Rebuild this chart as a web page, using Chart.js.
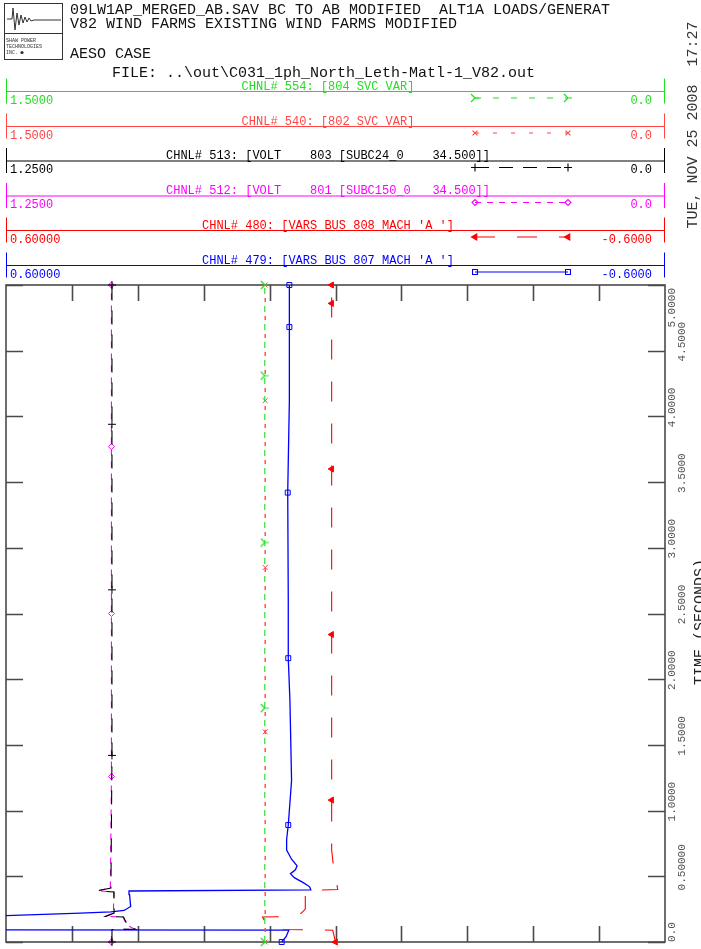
<!DOCTYPE html>
<html>
<head>
<meta charset="utf-8">
<script src="https://cdn.jsdelivr.net/npm/chart.js@4.4.0/dist/chart.umd.min.js"></script>
<style>
  body { margin: 0; background: #fff; }
  canvas { display: block; }
</style>
</head>
<body>
<canvas id="plot" width="701" height="949"></canvas>
<script>
// time axis (vertical, seconds)
const timeTicks = [0, 0.5, 1, 1.5, 2, 2.5, 3, 3.5, 4, 4.5, 5];
const timeLabels = ['0.0', '0.50000', '1.0000', '1.5000', '2.0000', '2.5000', '3.0000', '3.5000', '4.0000', '4.5000', '5.0000'];

// channel headers, top to bottom
const channelIds = ['554', '540', '513', '512', '480', '479'];
const channelTitles = [
  'CHNL# 554: [804 SVC VAR]',
  'CHNL# 540: [802 SVC VAR]',
  'CHNL# 513: [VOLT    803 [SUBC24_0    34.500]]',
  'CHNL# 512: [VOLT    801 [SUBC150_0   34.500]]',
  "CHNL# 480: [VARS BUS 808 MACH 'A ']",
  "CHNL# 479: [VARS BUS 807 MACH 'A ']"
];
const scaleHigh = [1.5, 1.5, 1.25, 1.25, 0.6, 0.6];
const scaleLow = [0, 0, 0, 0, -0.6, -0.6];
const highLabels = ['1.5000', '1.5000', '1.2500', '1.2500', '0.60000', '0.60000'];
const lowLabels = ['0.0', '0.0', '0.0', '0.0', '-0.6000', '-0.6000'];

// channel traces: time (s) and value, plus times where a symbol is drawn
const t554 = [0, 1.78, 3.04, 4.31, 5];
const v554 = [0.911, 0.911, 0.911, 0.911, 0.911];
const m554 = [0, 1.78, 3.04, 4.31, 5];

const t540 = [0, 1.6, 2.85, 4.12, 5];
const v540 = [0.91, 0.91, 0.91, 0.91, 0.91];
const m540 = [0, 1.6, 2.85, 4.12, 5];

const t513 = [0, 0.095, 0.097, 0.13, 0.19, 0.195, 0.22, 0.38, 0.39, 0.41, 1.42, 2.68, 3.94, 5];
const v513 = [1.049, 1.049, 1.004, 1.020, 1.027, 1.061, 1.045, 1.045, 1.076, 1.051, 1.049, 1.049, 1.049, 1.049];
const m513 = [0, 1.42, 2.68, 3.94, 5];

const t512 = [0, 0.095, 0.097, 0.13, 0.19, 0.195, 0.22, 0.38, 0.39, 0.41, 1.26, 2.5, 3.77, 5];
const v512 = [1.050, 1.050, 1.006, 1.021, 1.028, 1.062, 1.046, 1.046, 1.077, 1.052, 1.050, 1.050, 1.050, 1.050];
const m512 = [0, 1.26, 2.5, 3.77, 5];

const t480 = [0, 0.09, 0.095, 0.13, 0.19, 0.193, 0.22, 0.25, 0.37, 0.39, 0.40, 0.45, 0.55, 0.7, 1.08, 2.34, 3.6, 4.86, 5];
const v480 = [0.0, 0.005, 0.095, 0.125, 0.133, 0.080, 0.062, 0.055, 0.055, 0.055, -0.004, -0.002, 0.003, 0.007, 0.007, 0.007, 0.007, 0.007, 0.007];
const m480 = [0, 1.08, 2.34, 3.6, 4.86, 5];

const t479 = [0, 0.04, 0.09, 0.095, 0.197, 0.2, 0.22, 0.23, 0.24, 0.27, 0.36, 0.388, 0.396, 0.42, 0.45, 0.49, 0.52, 0.55, 0.58, 0.63, 0.7, 0.78, 0.89, 1.23, 1.84, 2.16, 2.6, 3.42, 4.12, 4.68, 5];
const v479 = [0.098, 0.090, 0.085, 0.95, 0.95, 0.6, 0.464, 0.409, 0.385, 0.373, 0.375, 0.376, 0.045, 0.047, 0.058, 0.075, 0.082, 0.073, 0.070, 0.080, 0.089, 0.089, 0.086, 0.080, 0.083, 0.086, 0.086, 0.087, 0.084, 0.084, 0.084];
const m479 = [0, 0.89, 2.16, 3.42, 4.68, 5];

const series = [[t554, v554, m554], [t540, v540, m540], [t513, v513, m513],
                [t512, v512, m512], [t480, v480, m480], [t479, v479, m479]];

// styles
const MONO = '"Liberation Mono", "DejaVu Sans Mono", monospace';
const colors = ['#22dd22', '#ff4545', '#000000', '#ff00ff', '#ff0000', '#0000ff'];
const dashes = [[6, 12], [4, 14], [14, 10], [6, 6], [20, 22], []];
const dashOffsets = [0, -10, 0, 0, 0, 0];

let greenMark = document.createElement('canvas');
greenMark.width = 10;
greenMark.height = 10;
let g = greenMark.getContext('2d');
g.strokeStyle = colors[0];
g.lineWidth = 1.2;
g.beginPath();
g.moveTo(1, 1); g.lineTo(5, 5); g.lineTo(1, 9);
g.moveTo(5, 5); g.lineTo(9, 5);
g.stroke();

const markers = [greenMark, 'crossRot', 'cross', 'rectRot', 'triangle', 'rect'];
const markRot = [0, 0, 0, 0, -90, 0];
const markSize = [5, 3.5, 4, 3, 3.5, 3.5];
const bandY = [91, 126, 160.5, 195.5, 230, 265];

let scales = {
  y: { type: 'linear', min: 0, max: 5, display: false }
};
channelIds.forEach(function (id, i) {
  scales['x' + id] = { type: 'linear', axis: 'x', min: scaleLow[i], max: scaleHigh[i], reverse: true, display: false };
});

let datasets = series.map(function (s, i) {
  return {
    label: channelTitles[i],
    data: s[0].map(function (t, k) { return { x: s[1][k], y: t }; }),
    xAxisID: 'x' + channelIds[i],
    yAxisID: 'y',
    showLine: true,
    borderColor: colors[i],
    borderWidth: i === 5 ? 1.3 : (i === 1 ? 1.4 : 1.1),
    borderDash: dashes[i],
    borderDashOffset: dashOffsets[i],
    pointStyle: markers[i],
    pointRotation: markRot[i],
    pointRadius: function (ctx) {
      return (ctx.raw && s[2].indexOf(ctx.raw.y) >= 0) ? markSize[i] : 0;
    },
    pointBorderColor: colors[i],
    pointBackgroundColor: i === 4 ? colors[i] : 'rgba(0,0,0,0)',
    pointBorderWidth: 1,
    clip: { left: 0, right: 0, top: 8, bottom: 8 }
  };
});

function rotText(ctx, text, xBase, yc, font, color) {
  ctx.save();
  ctx.font = font;
  ctx.fillStyle = color;
  ctx.translate(xBase, yc);
  ctx.rotate(-Math.PI / 2);
  ctx.textAlign = 'center';
  ctx.textBaseline = 'alphabetic';
  ctx.fillText(text, 0, 0);
  ctx.restore();
}

const psseFrame = {
  id: 'psseFrame',
  beforeDatasetsDraw(chart) {
    const ctx = chart.ctx;
    const a = chart.chartArea;
    const xs = chart.scales.x479;
    const ys = chart.scales.y;
    ctx.save();
    ctx.strokeStyle = '#4a4a4a';
    ctx.lineWidth = 1.6;
    ctx.strokeRect(a.left, a.top, a.right - a.left, a.bottom - a.top);
    ctx.beginPath();
    for (let i = 1; i < 10; i++) {
      let px = Math.round(xs.getPixelForValue(-0.6 + 0.12 * i)) + 0.5;
      ctx.moveTo(px, a.top); ctx.lineTo(px, a.top + 16);
      ctx.moveTo(px, a.bottom); ctx.lineTo(px, a.bottom - 16);
    }
    timeTicks.forEach(function (t) {
      let py = Math.round(ys.getPixelForValue(t)) + 0.5;
      ctx.moveTo(a.left, py); ctx.lineTo(a.left + 17, py);
      ctx.moveTo(a.right, py); ctx.lineTo(a.right - 17, py);
    });
    ctx.stroke();
    ctx.restore();
  },
  afterDraw(chart) {
    const ctx = chart.ctx;
    const a = chart.chartArea;
    const ys = chart.scales.y;
    ctx.save();

    // logo box
    ctx.strokeStyle = '#333';
    ctx.lineWidth = 1;
    ctx.strokeRect(4.5, 3.5, 58, 56);
    ctx.beginPath();
    ctx.moveTo(4.5, 33.5); ctx.lineTo(62.5, 33.5);
    ctx.stroke();
    ctx.beginPath();
    ctx.moveTo(7, 19); ctx.lineTo(12, 19); ctx.lineTo(13, 8); ctx.lineTo(15, 30);
    ctx.lineTo(17, 13); ctx.lineTo(19, 25); ctx.lineTo(21, 15); ctx.lineTo(23, 23);
    ctx.lineTo(25, 17); ctx.lineTo(27, 22); ctx.lineTo(29, 18); ctx.lineTo(31, 21);
    ctx.lineTo(34, 20); ctx.lineTo(61, 20);
    ctx.stroke();
    ctx.fillStyle = '#333';
    ctx.font = '5px ' + MONO;
    ctx.fillText('SHAW POWER', 6, 42);
    ctx.fillText('TECHNOLOGIES', 6, 48);
    ctx.fillText('INC.', 6, 54);
    ctx.beginPath();
    ctx.arc(22, 52.5, 1.6, 0, Math.PI * 2);
    ctx.fill();

    // case header
    ctx.fillStyle = '#111';
    ctx.font = '15px ' + MONO;
    ctx.textAlign = 'left';
    ctx.fillText('09LW1AP_MERGED_AB.SAV BC TO AB MODIFIED  ALT1A LOADS/GENERAT', 70, 14);
    ctx.fillText('V82 WIND FARMS EXISTING WIND FARMS MODIFIED', 70, 28);
    ctx.fillText('AESO CASE', 70, 58);
    ctx.fillText('FILE: ..\\out\\C031_1ph_North_Leth-Matl-1_V82.out', 112, 77);

    // channel bands
    for (let i = 0; i < 6; i++) {
      let y = bandY[i] + 0.5;
      ctx.strokeStyle = colors[i];
      ctx.fillStyle = colors[i];
      ctx.lineWidth = 1;
      ctx.setLineDash([]);
      ctx.beginPath();
      ctx.moveTo(a.left, y); ctx.lineTo(a.right, y);
      ctx.moveTo(a.left + 0.5, y - 13); ctx.lineTo(a.left + 0.5, y + 12);
      ctx.moveTo(a.right - 0.5, y - 13); ctx.lineTo(a.right - 0.5, y + 12);
      ctx.stroke();

      ctx.font = '12px ' + MONO;
      ctx.textAlign = 'center';
      ctx.fillText(channelTitles[i], 328, y - 2);
      ctx.textAlign = 'left';
      ctx.fillText(highLabels[i], 10, y + 12);
      ctx.textAlign = 'right';
      ctx.fillText(lowLabels[i], 652, y + 12);

      // legend sample
      let ly = y + 6.5;
      ctx.setLineDash(dashes[i]);
      ctx.lineWidth = 1.1;
      ctx.beginPath();
      ctx.moveTo(475, ly); ctx.lineTo(568, ly);
      ctx.stroke();
      ctx.setLineDash([]);
      ctx.fillStyle = i === 4 ? colors[i] : 'rgba(0,0,0,0)';
      [475, 568].forEach(function (px) {
        Chart.helpers.drawPoint(ctx, {
          pointStyle: markers[i], rotation: markRot[i], radius: markSize[i], borderWidth: 1
        }, px, ly);
      });
    }

    // time axis labels
    ctx.setLineDash([]);
    timeTicks.forEach(function (t, k) {
      let label = timeLabels[k];
      ctx.font = '11px ' + MONO;
      let half = ctx.measureText(label).width / 2;
      let yc = ys.getPixelForValue(t) - 9;
      if (yc - half < a.top + 3) yc = a.top + 3 + half;
      if (yc + half > a.bottom) yc = a.bottom - half;
      let xBase = (k % 2 === 0) ? 675 : 685;
      rotText(ctx, label, xBase, yc, '11px ' + MONO, '#555');
    });
    rotText(ctx, 'TIME (SECONDS)', 704, 622, '15px ' + MONO, '#222');
    rotText(ctx, 'TUE, NOV 25 2008  17:27', 697, 125, '15px ' + MONO, '#333');

    ctx.restore();
  }
};

let plot = new Chart(document.getElementById('plot'), {
  type: 'scatter',
  data: { datasets: datasets },
  options: {
    responsive: false,
    animation: false,
    devicePixelRatio: 1,
    layout: { padding: { left: 5, right: 36, top: 285, bottom: 7 } },
    scales: scales,
    plugins: {
      legend: { display: false },
      tooltip: { enabled: false }
    }
  },
  plugins: [psseFrame]
});
</script>
</body>
</html>
